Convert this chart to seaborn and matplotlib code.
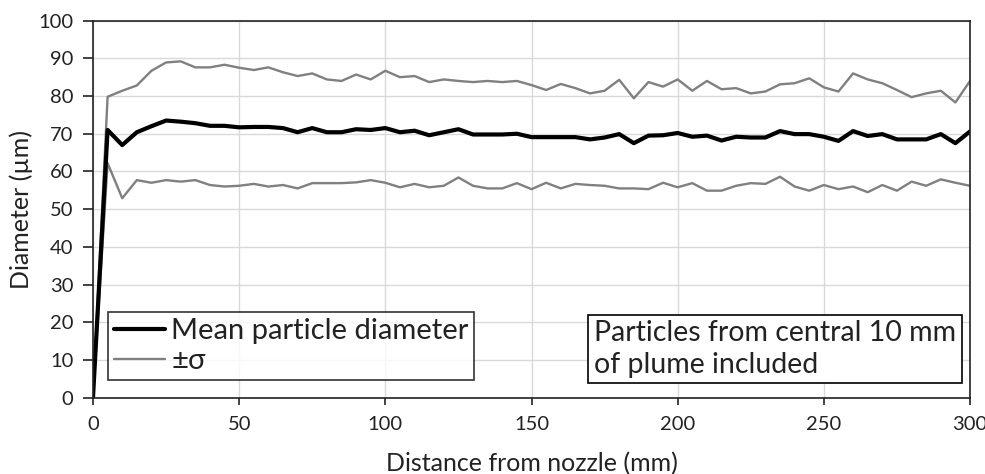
import matplotlib
matplotlib.use("Agg")
import matplotlib.pyplot as plt
import seaborn as sns
import pandas as pd
from matplotlib.lines import Line2D

distance_mm = [0, 5, 10, 15, 20, 25, 30, 35, 40, 45, 50, 55, 60, 65, 70, 75, 80, 85, 90, 95,
               100, 105, 110, 115, 120, 125, 130, 135, 140, 145, 150, 155, 160, 165, 170, 175,
               180, 185, 190, 195, 200, 205, 210, 215, 220, 225, 230, 235, 240, 245, 250, 255,
               260, 265, 270, 275, 280, 285, 290, 295, 300]

mean_diam = [0, 71.0, 67.0, 70.4, 72.0, 73.5, 73.2, 72.8, 72.1, 72.1, 71.7, 71.8, 71.8, 71.5,
             70.4, 71.5, 70.4, 70.4, 71.2, 71.0, 71.5, 70.4, 70.8, 69.6, 70.4, 71.2, 69.8, 69.8,
             69.8, 70.0, 69.1, 69.1, 69.1, 69.1, 68.5, 69.0, 69.9, 67.5, 69.5, 69.6, 70.2, 69.2,
             69.5, 68.2, 69.2, 69.0, 69.0, 70.7, 69.9, 69.9, 69.2, 68.1, 70.7, 69.4, 69.9, 68.5,
             68.5, 68.5, 69.9, 67.5, 70.6]

upper_sigma = [0, 79.8, 81.4, 82.8, 86.7, 88.9, 89.2, 87.6, 87.6, 88.3, 87.5, 86.9, 87.6, 86.3,
               85.3, 86.0, 84.4, 84.0, 85.7, 84.4, 86.7, 85.0, 85.3, 83.7, 84.4, 84.0, 83.7, 84.0,
               83.7, 84.0, 82.9, 81.6, 83.2, 82.1, 80.7, 81.4, 84.3, 79.4, 83.7, 82.5, 84.4, 81.4,
               84.0, 81.8, 82.1, 80.7, 81.2, 83.1, 83.4, 84.7, 82.3, 81.2, 86.0, 84.4, 83.4, 81.6,
               79.7, 80.7, 81.4, 78.3, 84.0]

lower_sigma = [0, 62.2, 52.9, 57.7, 57.0, 57.7, 57.3, 57.7, 56.4, 56.0, 56.2, 56.7, 56.0, 56.4,
               55.5, 56.9, 56.9, 56.9, 57.1, 57.7, 57.0, 55.8, 56.7, 55.8, 56.2, 58.4, 56.2, 55.5,
               55.5, 56.9, 55.3, 57.0, 55.5, 56.7, 56.4, 56.2, 55.5, 55.5, 55.3, 57.0, 55.8, 56.9,
               54.9, 54.9, 56.2, 56.9, 56.7, 58.6, 56.0, 54.9, 56.4, 55.3, 56.0, 54.5, 56.4, 54.9,
               57.3, 56.2, 57.9, 57.0, 56.2]

x_ticks = [0, 50, 100, 150, 200, 250, 300]
y_ticks = [0, 10, 20, 30, 40, 50, 60, 70, 80, 90, 100]

df = pd.DataFrame({"x": distance_mm, "mean": mean_diam,
                   "upper": upper_sigma, "lower": lower_sigma})

sns.set_style("white")
plt.rcParams["font.family"] = ["Lato", "DejaVu Sans"]

fig = plt.figure(figsize=(9.85, 4.74), dpi=100)
ax = fig.add_axes([0.0944, 0.161, 0.8904, 0.7955])

gray = "#808080"
sns.lineplot(data=df, x="x", y="upper", ax=ax, color=gray, linewidth=1.7)
sns.lineplot(data=df, x="x", y="lower", ax=ax, color=gray, linewidth=1.7)
sns.lineplot(data=df, x="x", y="mean", ax=ax, color="black", linewidth=3.0)

ax.set_xlim(0, 300)
ax.set_ylim(0, 100)
ax.set_xticks(x_ticks)
ax.set_yticks(y_ticks)
ax.grid(True, color="#d9d9d9", linewidth=1.0)
ax.set_axisbelow(True)
for s in ax.spines.values():
    s.set_color("#222222")
    s.set_linewidth(1.2)
    s.set_visible(True)

ax.tick_params(axis="both", direction="out", width=1.2, color="#222222",
               labelsize=14.5, labelcolor="#222222", left=True, bottom=True)
ax.tick_params(axis="y", length=7, pad=7)
ax.tick_params(axis="x", length=5, pad=8)
ax.set_xlabel("Distance from nozzle (mm)", fontsize=18, color="#222222", labelpad=14)
ax.set_ylabel("Diameter (µm)", fontsize=18, color="#222222", labelpad=4)

handles = [Line2D([0], [0], color="black", linewidth=3.0),
           Line2D([0], [0], color=gray, linewidth=1.7)]
leg = ax.legend(handles, ["Mean particle diameter", "±σ"], loc="upper left",
                bbox_to_anchor=(0.017, 0.226), fontsize=21, frameon=True, fancybox=False,
                handlelength=1.75, handletextpad=0.22, borderpad=0.2, labelspacing=0.12,
                borderaxespad=0)
leg.get_frame().set_edgecolor("black")
leg.get_frame().set_linewidth(1.2)
for t in leg.get_texts():
    t.set_color("#222222")

ax.text(0.571, 0.205, "Particles from central 10 mm\nof plume included",
        transform=ax.transAxes, fontsize=20.5, color="#222222", ha="left", va="top",
        linespacing=1.25,
        bbox=dict(boxstyle="square,pad=0.2", facecolor="white", edgecolor="black", linewidth=1.2))

fig.savefig("out.png", dpi=100)
